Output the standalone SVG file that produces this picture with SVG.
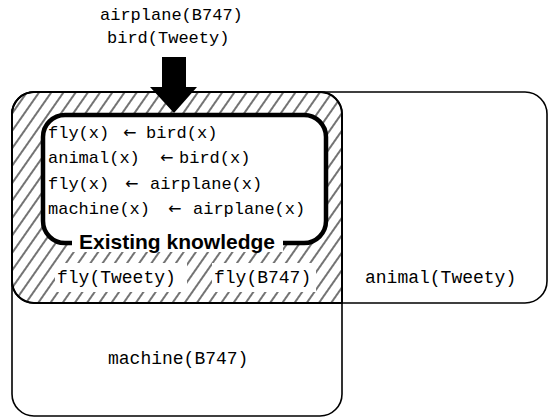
<svg xmlns="http://www.w3.org/2000/svg" width="551" height="419" viewBox="0 0 551 419">
  <style>
    .mono { font-family: "Liberation Mono", "Courier New", monospace; fill: #000; }
    .rule { font-size: 17px; }
    .lbl { font-size: 18px; }
    .arr { font-family: "DejaVu Sans", "Liberation Sans", sans-serif; font-size: 16px; fill: #000; }
    .title { font-family: "Liberation Sans", Arial, sans-serif; font-weight: bold; font-size: 21px; fill: #000; }
    .frame { fill: none; stroke: #000; stroke-width: 1.6; }
  </style>
  <defs>
    <pattern id="hatch" patternUnits="userSpaceOnUse" width="10" height="10" patternTransform="rotate(35)">
      <line x1="5" y1="-1" x2="5" y2="11" stroke="#000" stroke-width="1.1"/>
    </pattern>
  </defs>

  <rect x="0" y="0" width="551" height="419" fill="#fff"/>

  <!-- fly region: overlap of animal and machine sets -->
  <g id="fly-region">
    <path d="M34,92 H320 A22,22 0 0 1 342,114 V303 H34 A22,22 0 0 1 12,281 V114 A22,22 0 0 1 34,92 Z" fill="url(#hatch)" stroke="#000" stroke-width="2"/>
    <rect x="55" y="263" width="132" height="29" fill="#fff"/>
    <rect x="212" y="263" width="104" height="29" fill="#fff"/>
    <text class="mono lbl" x="57" y="283">fly(Tweety)</text>
    <text class="mono lbl" x="214" y="283">fly(B747)</text>
  </g>

  <!-- animal set -->
  <g id="animal">
    <rect class="frame" x="12" y="92" width="535" height="211" rx="22" ry="22"/>
    <text class="mono lbl" x="365" y="283">animal(Tweety)</text>
  </g>

  <!-- machine set -->
  <g id="machine">
    <rect class="frame" x="12" y="92" width="330" height="324" rx="22" ry="22"/>
    <text class="mono lbl" x="108" y="364">machine(B747)</text>
  </g>

  <!-- rule base -->
  <g id="existing-knowledge">
    <rect x="43" y="115" width="283" height="128" rx="22" ry="22" fill="#fff" stroke="#000" stroke-width="4.5"/>
    <rect x="72" y="231" width="211" height="21" fill="#fff"/>
    <text class="title" x="177" y="249" text-anchor="middle">Existing knowledge</text>
    <text class="mono rule" x="48" y="138">fly(x)</text>
    <text class="arr" x="123" y="138">←</text>
    <text class="mono rule" x="146" y="138">bird(x)</text>
    <text class="mono rule" x="48" y="163">animal(x)</text>
    <text class="arr" x="160" y="163">←</text>
    <text class="mono rule" x="179" y="163">bird(x)</text>
    <text class="mono rule" x="48" y="189">fly(x)</text>
    <text class="arr" x="125" y="189">←</text>
    <text class="mono rule" x="150" y="189">airplane(x)</text>
    <text class="mono rule" x="48" y="214">machine(x)</text>
    <text class="arr" x="168" y="214">←</text>
    <text class="mono rule" x="193" y="214">airplane(x)</text>
  </g>

  <!-- incoming facts -->
  <g id="new-facts">
    <text class="mono rule" x="100" y="20">airplane(B747)</text>
    <text class="mono rule" x="107" y="43">bird(Tweety)</text>
  </g>

  <g id="connectors">
    <path d="M162,57 H186 V87 H197 L174,113 L150,87 H162 Z" fill="#000"/>
  </g>
</svg>
